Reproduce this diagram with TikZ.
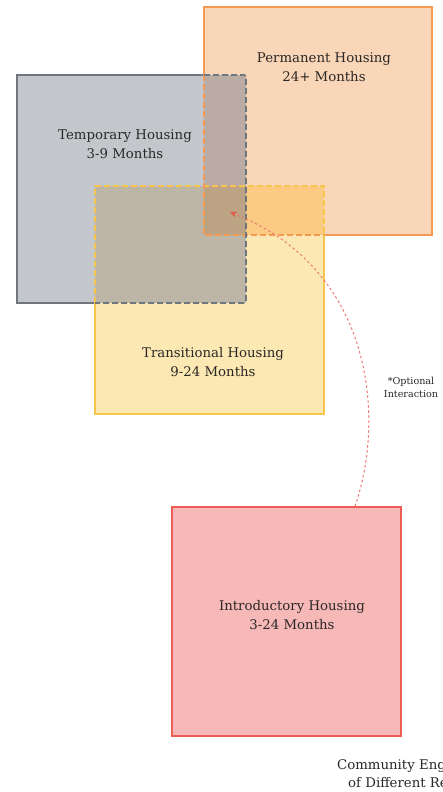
\documentclass[tikz,border=0pt]{standalone}
\usepackage{fontspec}
\setmainfont{DejaVu Serif}
\usetikzlibrary{arrows.meta,calc}
\definecolor{grayfill}{HTML}{C3C7CB}
\definecolor{grayline}{HTML}{6F767D}
\definecolor{orfill}{HTML}{F9D6B7}
\definecolor{orline}{HTML}{F49A52}
\definecolor{yefill}{HTML}{FCE8B3}
\definecolor{yeline}{HTML}{F6C64C}
\definecolor{redfill}{HTML}{F7B9B8}
\definecolor{redline}{HTML}{EE5C57}
\definecolor{tpfill}{HTML}{BAACA4}
\definecolor{ttfill}{HTML}{BDB6A6}
\definecolor{ptfill}{HTML}{FBCB84}
\definecolor{tptfill}{HTML}{BBA383}
\definecolor{txt}{HTML}{2A2726}
\definecolor{arrowc}{HTML}{EE7A72}
\definecolor{arrowtip}{HTML}{E45A4A}
\tikzset{
  boxfill/.style={rectangle, minimum width=229pt, minimum height=229pt, inner sep=0pt, draw=none},
  solidedge/.style={line width=1.5pt, line join=miter},
  dashededge/.style={line width=1.7pt, dash pattern=on 6pt off 3pt},
  label/.style={text=txt, align=center, font=\fontsize{13.3}{18.5}\selectfont},
  smalllabel/.style={text=txt, align=center, font=\fontsize{9.6}{13}\selectfont},
  optarrow/.style={arrowc, line width=1pt, dash pattern=on 2.5pt off 2.5pt, -{Stealth[length=7pt,width=6pt,color=arrowtip]}}
}
\begin{document}
\begin{tikzpicture}[x=1pt,y=-1pt]
\useasboundingbox (0,0) rectangle (443,792);
\clip (0,0) rectangle (443,792);
% main fills
\node[boxfill, fill=grayfill] (temp) at (131.5,189) {};
\node[boxfill, fill=orfill] (perm) at (318,121) {};
\node[boxfill, fill=yefill] (trans) at (209.5,300) {};
\node[boxfill, fill=redfill, draw=redline, line width=1.5pt] (intro) at (286.5,621.5) {};
% overlap fills
\fill[tpfill] (204,75) rectangle (246,235);
\fill[ttfill] (95,186) rectangle (246,303);
\fill[ptfill] (204,186) rectangle (324,235);
\fill[tptfill] (204,186) rectangle (246,235);
% solid borders
\draw[solidedge, grayline] (204,75) -- (17,75) -- (17,303) -- (95,303);
\draw[solidedge, orline] (204,75) -- (204,7) -- (432,7) -- (432,235) -- (324,235);
\draw[solidedge, yeline] (324,235) -- (324,414) -- (95,414) -- (95,303);
% dashed borders
\draw[dashededge, yeline] (95,303) -- (95,186) -- (324,186) -- (324,235);
\draw[dashededge, orline] (204,75) -- (204,235) -- (324,235);
\draw[dashededge, grayline, rounded corners=2pt] (204,75) -- (246,75) -- (246,303) -- (95,303);
% labels
\node[label] (permtext) at (324,67) {Permanent Housing\\24+ Months};
\node[label] (temptext) at (125,144) {Temporary Housing\\3-9 Months};
\node[label] (transtext) at (213,362) {Transitional Housing\\9-24 Months};
\node[label] (introtext) at (292,615) {Introductory Housing\\3-24 Months};
\node[smalllabel] (opttext) at (411,387) {*Optional\\Interaction};
\node[label, anchor=west, inner sep=0pt] (comm1) at (337,766) {Community Eng};
\node[label, anchor=west, inner sep=0pt] (comm2) at (348,783) {of Different Re};
% connector
\coordinate (tip) at (230,212);
\draw[optarrow] ([xshift=68.5pt]intro.north) .. controls (385,420) and (375,270) .. (tip);
\end{tikzpicture}
\end{document}
